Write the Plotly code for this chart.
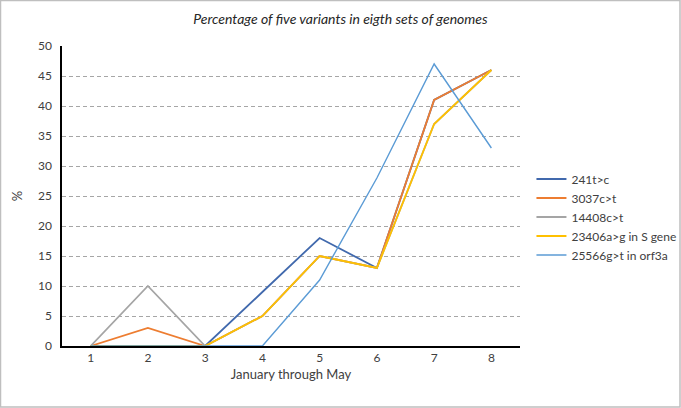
import plotly.graph_objects as go

categories = ["1", "2", "3", "4", "5", "6", "7", "8"]
series_names = ["241t>c", "3037c>t", "14408c>t", "23406a>g in S gene", "25566g>t in orf3a"]
v_241 = [0, 0, 0, 9, 18, 13, 41, 46]
v_3037 = [0, 3, 0, 5, 15, 13, 41, 46]
v_14408 = [0, 10, 0, 5, 15, 13, 37, 46]
v_23406 = [0, 0, 0, 5, 15, 13, 37, 46]
v_25566 = [0, 0, 0, 0, 11, 28, 47, 33]
y_ticks = [0, 5, 10, 15, 20, 25, 30, 35, 40, 45, 50]

colors = ["#4169AD", "#ED7D31", "#A5A5A5", "#FFC000", "#5B9BD5"]
widths = [1.8, 1.8, 1.8, 1.8, 1.4]
values = [v_241, v_3037, v_14408, v_23406, v_25566]

fig = go.Figure()
for name, vals, c, w in zip(series_names, values, colors, widths):
    fig.add_trace(go.Scatter(x=categories, y=vals, mode="lines", name=name,
                             line=dict(color=c, width=w)))

font_family = "Lato, Open Sans, Liberation Sans, sans-serif"
fig.update_layout(
    width=681, height=408,
    margin=dict(l=62, r=161, t=46, b=62, autoexpand=False),
    paper_bgcolor="white", plot_bgcolor="white",
    title=dict(text="<i>Percentage of five variants in eigth sets of genomes</i>",
               x=0.5, xanchor="center", y=0.952, yanchor="middle",
               font=dict(family=font_family, size=14, color="#262626")),
    font=dict(family=font_family, size=12, color="#404040"),
    xaxis=dict(type="category", range=[-0.5, 7.5], showgrid=False, automargin=False,
               showline=True, linecolor="#000000", linewidth=1.5,
               ticks="", tickfont=dict(size=12, color="#404040"),
               title=dict(text="January through May", standoff=6,
                          font=dict(size=13, color="#404040"))),
    yaxis=dict(range=[0, 50], tickvals=y_ticks, showgrid=True, automargin=False,
               gridcolor="#A6A6A6", griddash="4px,3px", gridwidth=1,
               showline=True, linecolor="#000000", linewidth=1.5,
               zeroline=False, ticks="", ticklabelstandoff=6,
               tickfont=dict(size=12, color="#404040"),
               title=dict(text="%", standoff=12, font=dict(size=13, color="#404040"))),
    legend=dict(x=1.025, xanchor="left", y=0.43, yanchor="middle",
                font=dict(size=12, color="#404040"), tracegroupgap=0,
                bgcolor="rgba(0,0,0,0)"),
    showlegend=True,
)
fig.add_shape(type="rect", xref="paper", yref="paper",
              x0=-61.5/458, x1=1 + 160/458, y0=-61/300, y1=1 + 45.5/300,
              line=dict(color="#BFBFBF", width=1.5), fillcolor="rgba(0,0,0,0)")

fig.write_html("out.html", config={"displayModeBar": False},
               post_script="document.body.style.margin='0';document.body.style.padding='0';")
